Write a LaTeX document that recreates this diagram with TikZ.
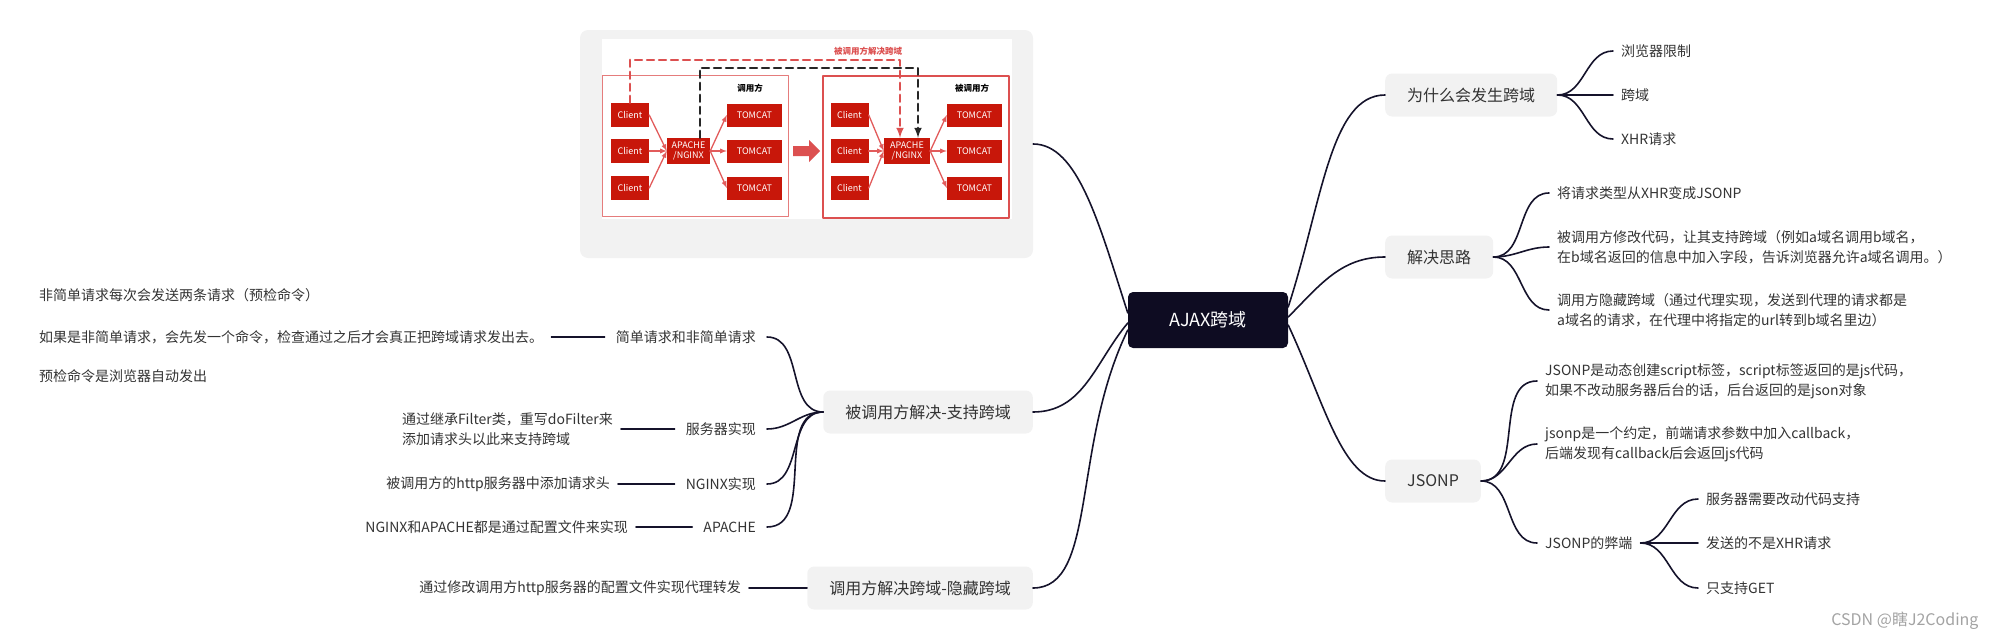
\documentclass[tikz,border=0pt]{standalone}
\usepackage{fontspec}
\setmainfont{Noto Sans CJK SC}
\definecolor{hubnavy}{HTML}{0E0C22}
\definecolor{linkline}{HTML}{15132B}
\definecolor{topicgray}{HTML}{F2F2F2}
\definecolor{txtgray}{HTML}{333333}
\definecolor{boxred}{HTML}{C8170A}
\definecolor{flowred}{HTML}{E25B5B}
\definecolor{framered}{HTML}{DC5050}
\definecolor{markgray}{HTML}{A3A3A3}
\usetikzlibrary{positioning}
\begin{document}
\begin{tikzpicture}[x=1pt,y=-1pt,line cap=round,line join=round,>=latex,
hub/.style={fill=hubnavy,text=white,rounded corners=5pt,minimum width=160pt,minimum height=56pt,font=\fontsize{18}{22}\selectfont},
topic/.style={fill=topicgray,text=txtgray,rounded corners=7pt,minimum height=43pt,inner xsep=22pt,font=\fontsize{16}{19}\selectfont},
leaf/.style={text=txtgray,inner xsep=8pt,inner ysep=0pt,align=left,font=\fontsize{14}{20}\selectfont},
midleaf/.style={leaf,inner xsep=11pt},
link/.style={draw=linkline,line width=1.6pt},
srv/.style={fill=boxred,text=white,inner sep=0pt,align=center,font=\fontsize{9}{10.5}\selectfont},
flow/.style={draw=flowred,line width=1.3pt,->},
tag/.style={font=\fontsize{8.5}{10}\selectfont\bfseries},
]
\useasboundingbox (0,0) rectangle (1990,640);

\node[hub] (ajax) at (1208,320) {AJAX跨域};

\node[topic,anchor=west] (why) at (1385,95) {为什么会发生跨域};
\node[topic,anchor=west] (idea) at (1385,257) {解决思路};
\node[topic,anchor=west] (jsonp) at (1385,481) {JSONP};
\node[topic,anchor=east] (cors) at (1033,412) {被调用方解决-支持跨域};
\node[topic,anchor=east] (proxy) at (1033,588) {调用方解决跨域-隐藏跨域};

\node[fill=topicgray,rounded corners=8pt,minimum width=453pt,minimum height=228pt] (shot) at (806.5,144) {};
\fill[white] (602,39) rectangle (1012,219);
\draw[framered!75,line width=1pt] (602,75) rectangle (788,216);
\draw[framered,line width=1.8pt] (823,76) rectangle (1009,218);
\node[tag] (caller) at (750,88) {调用方};
\node[tag] (callee) at (972,88) {被调用方};
\node[tag,text=framered] (fix) at (868,51) {被调用方解决跨域};
\foreach \y [count=\i] in {115,151,188}{
\node[srv,minimum width=38pt,minimum height=24pt] (lc\i) at (630,\y) {Client};
\node[srv,minimum width=55pt,minimum height=23pt] (lt\i) at (754.5,\y) {TOMCAT};
\node[srv,minimum width=38pt,minimum height=24pt] (rc\i) at (849.5,\y) {Client};
\node[srv,minimum width=55pt,minimum height=23pt] (rt\i) at (974.5,\y) {TOMCAT};
}
\node[srv,minimum width=43pt,minimum height=26pt] (lap) at (688.5,151) {APACHE\\/NGINX};
\node[srv,minimum width=46pt,minimum height=26pt] (rap) at (907,151) {APACHE\\/NGINX};
\foreach \i in {1,2,3}{
\draw[flow] (lc\i.east) -- (lap.west);
\draw[flow] (lap.east) -- (lt\i.west);
\draw[flow] (rc\i.east) -- (rap.west);
\draw[flow] (rap.east) -- (rt\i.west);
}
\fill[framered] (793,146) -- (809,146) -- (809,140) -- (820,151) -- (809,162) -- (809,156) -- (793,156) -- cycle;
\draw[framered,line width=2.4pt,dash pattern=on 7pt off 5pt,->] (lc1.north) -- ++(0,-43) -| ([xshift=-7pt]rap.north);
\draw[black!85,line width=2.4pt,dash pattern=on 7pt off 5pt,->] ([xshift=11.5pt]lap.north) -- ++(0,-70) -| ([xshift=11pt]rap.north);

\draw[link] ([yshift=13pt]ajax.east) to[out=72,in=180,out looseness=1.2,in looseness=0.6] (why.west);
\draw[link] ([yshift=3pt]ajax.east) to[out=45,in=180] (idea.west);
\draw[link] ([yshift=-5pt]ajax.east) to[out=-65,in=180,out looseness=1.2,in looseness=0.6] (jsonp.west);
\draw[link] ([yshift=7pt]ajax.west) to[out=108,in=0,out looseness=1.2,in looseness=0.6] (shot.east);
\draw[link] ([yshift=-3pt]ajax.west) to[out=230,in=0] (cors.east);
\draw[link] ([yshift=-10pt]ajax.west) to[out=244,in=0,out looseness=1.2,in looseness=0.6] (proxy.east);

\node[leaf,anchor=west] (wb) at (1613,51) {浏览器限制};
\node[leaf,anchor=west] (wc) at (1613,95) {跨域};
\node[leaf,anchor=west] (wx) at (1613,139) {XHR请求};
\foreach \n in {wb,wc,wx}
\draw[link] (why.east) to[out=0,in=180] (\n.west);

\node[leaf,anchor=west] (i1) at (1549,193) {将请求类型从XHR变成JSONP};
\node[leaf,anchor=west] (i2) at (1549,247) {被调用方修改代码，让其支持跨域（例如a域名调用b域名，\\在b域名返回的信息中加入字段，告诉浏览器允许a域名调用。）};
\node[leaf,anchor=west] (i3) at (1549,310) {调用方隐藏跨域（通过代理实现，发送到代理的请求都是\\a域名的请求，在代理中将指定的url转到b域名里边）};
\foreach \n in {i1,i2,i3}
\draw[link] (idea.east) to[out=0,in=180] (\n.west);

\node[leaf,anchor=west] (j1) at (1537,381) {JSONP是动态创建script标签，script标签返回的是js代码，\\如果不改动服务器后台的话，后台返回的是json对象};
\node[leaf,anchor=west] (j2) at (1537,444) {jsonp是一个约定，前端请求参数中加入callback，\\后端发现有callback后会返回js代码};
\node[leaf,anchor=west] (j3) at (1537,543) {JSONP的弊端};
\foreach \n in {j1,j2,j3}
\draw[link] (jsonp.east) to[out=0,in=180] (\n.west);

\node[leaf,anchor=west] (k1) at (1698,499) {服务器需要改动代码支持};
\node[leaf,anchor=west] (k2) at (1698,543) {发送的不是XHR请求};
\node[leaf,anchor=west] (k3) at (1698,588) {只支持GET};
\foreach \n in {k1,k2,k3}
\draw[link] (j3.east) to[out=0,in=180] (\n.west);

\node[midleaf,anchor=east] (s0) at (767,337) {简单请求和非简单请求};
\node[midleaf,anchor=east] (s1) at (767,429) {服务器实现};
\node[midleaf,anchor=east] (s2) at (767,484) {NGINX实现};
\node[midleaf,anchor=east] (s3) at (767,527) {APACHE};
\foreach \n in {s0,s1,s2,s3}
\draw[link] (cors.west) to[out=180,in=0] (\n.east);

\node[leaf,anchor=west] (p1) at (31,295) {非简单请求每次会发送两条请求（预检命令）};
\node[leaf,anchor=west] (p2) at (31,337) {如果是非简单请求，会先发一个命令，检查通过之后才会真正把跨域请求发出去。};
\node[leaf,anchor=west] (p3) at (31,376) {预检命令是浏览器自动发出};
\draw[link] (p2.east) -- (s0.west);

\node[leaf,anchor=east] (q1) at (621,429) {通过继承Filter类，重写doFilter来\\添加请求头以此来支持跨域};
\node[leaf,anchor=east] (q2) at (618,484) {被调用方的http服务器中添加请求头};
\node[leaf,anchor=east] (q3) at (636,527) {NGINX和APACHE都是通过配置文件来实现};
\draw[link] (q1.east) -- (s1.west);
\draw[link] (q2.east) -- (s2.west);
\draw[link] (q3.east) -- (s3.west);

\node[leaf,anchor=east] (r1) at (749,588) {通过修改调用方http服务器的配置文件实现代理转发};
\draw[link] (r1.east) -- (proxy.west);

\node[text=markgray,font=\fontsize{16}{18}\selectfont,anchor=east] (mark) at (1982,621) {CSDN @瞎J2Coding};
\end{tikzpicture}
\end{document}
